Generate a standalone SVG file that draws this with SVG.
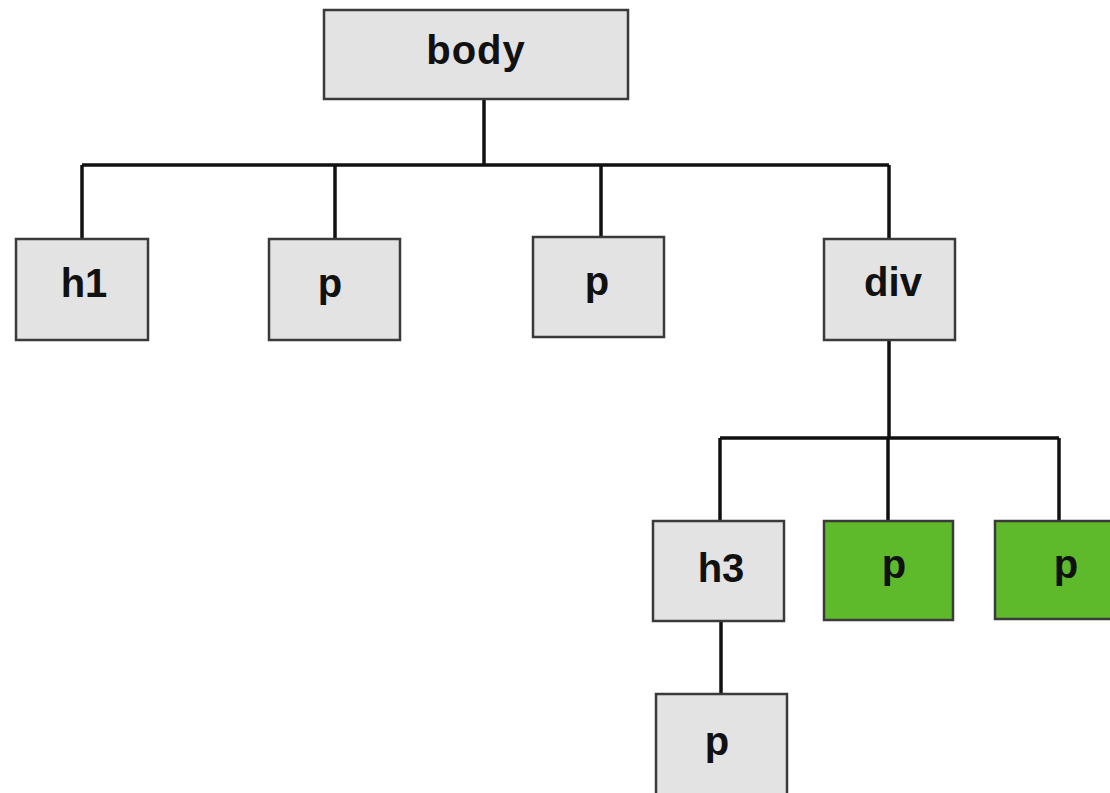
<svg xmlns="http://www.w3.org/2000/svg" width="1110" height="793" viewBox="0 0 1110 793">
<style>
.box{fill:#e3e3e3;stroke:#3a3a3a;stroke-width:2.5}
.green{fill:#5fba2b;stroke:#3a3a3a;stroke-width:2.5}
.lbl{font-family:"Liberation Sans",Arial,sans-serif;font-weight:bold;font-size:40px;fill:#111;text-anchor:middle}
.conn{fill:none;stroke:#111;stroke-width:3.5}
</style>
<rect width="1110" height="793" fill="#ffffff"/>
<g id="connectors">
<path class="conn" d="M484,99 V165 M82,165 H889 M82,165 V239 M335,165 V239 M601,165 V237 M889,165 V239"/>
<path class="conn" d="M889,340 V438 M720,438 H1059 M720,438 V521 M888,438 V521 M1059,438 V521"/>
<path class="conn" d="M721,621 V694"/>
</g>
<g id="body"><rect class="box" x="324" y="10" width="304" height="89"/><text class="lbl" x="476" y="64" letter-spacing="1">body</text></g>
<g id="h1"><rect class="box" x="16" y="239" width="132" height="101"/><text class="lbl" x="84" y="297">h1</text></g>
<g id="p1"><rect class="box" x="269" y="239" width="131" height="101"/><text class="lbl" x="330" y="297">p</text></g>
<g id="p2"><rect class="box" x="533" y="237" width="131" height="100"/><text class="lbl" x="597" y="295">p</text></g>
<g id="div"><rect class="box" x="824" y="239" width="131" height="101"/><text class="lbl" x="893" y="296">div</text></g>
<g id="h3"><rect class="box" x="653" y="521" width="131" height="100"/><text class="lbl" x="721" y="582">h3</text></g>
<g id="p3"><rect class="green" x="824" y="521" width="129" height="99"/><text class="lbl" x="894" y="578">p</text></g>
<g id="p4"><rect class="green" x="995" y="521" width="135" height="98"/><text class="lbl" x="1066" y="578">p</text></g>
<g id="p5"><rect class="box" x="656" y="694" width="131" height="110"/><text class="lbl" x="717" y="755">p</text></g>
</svg>
